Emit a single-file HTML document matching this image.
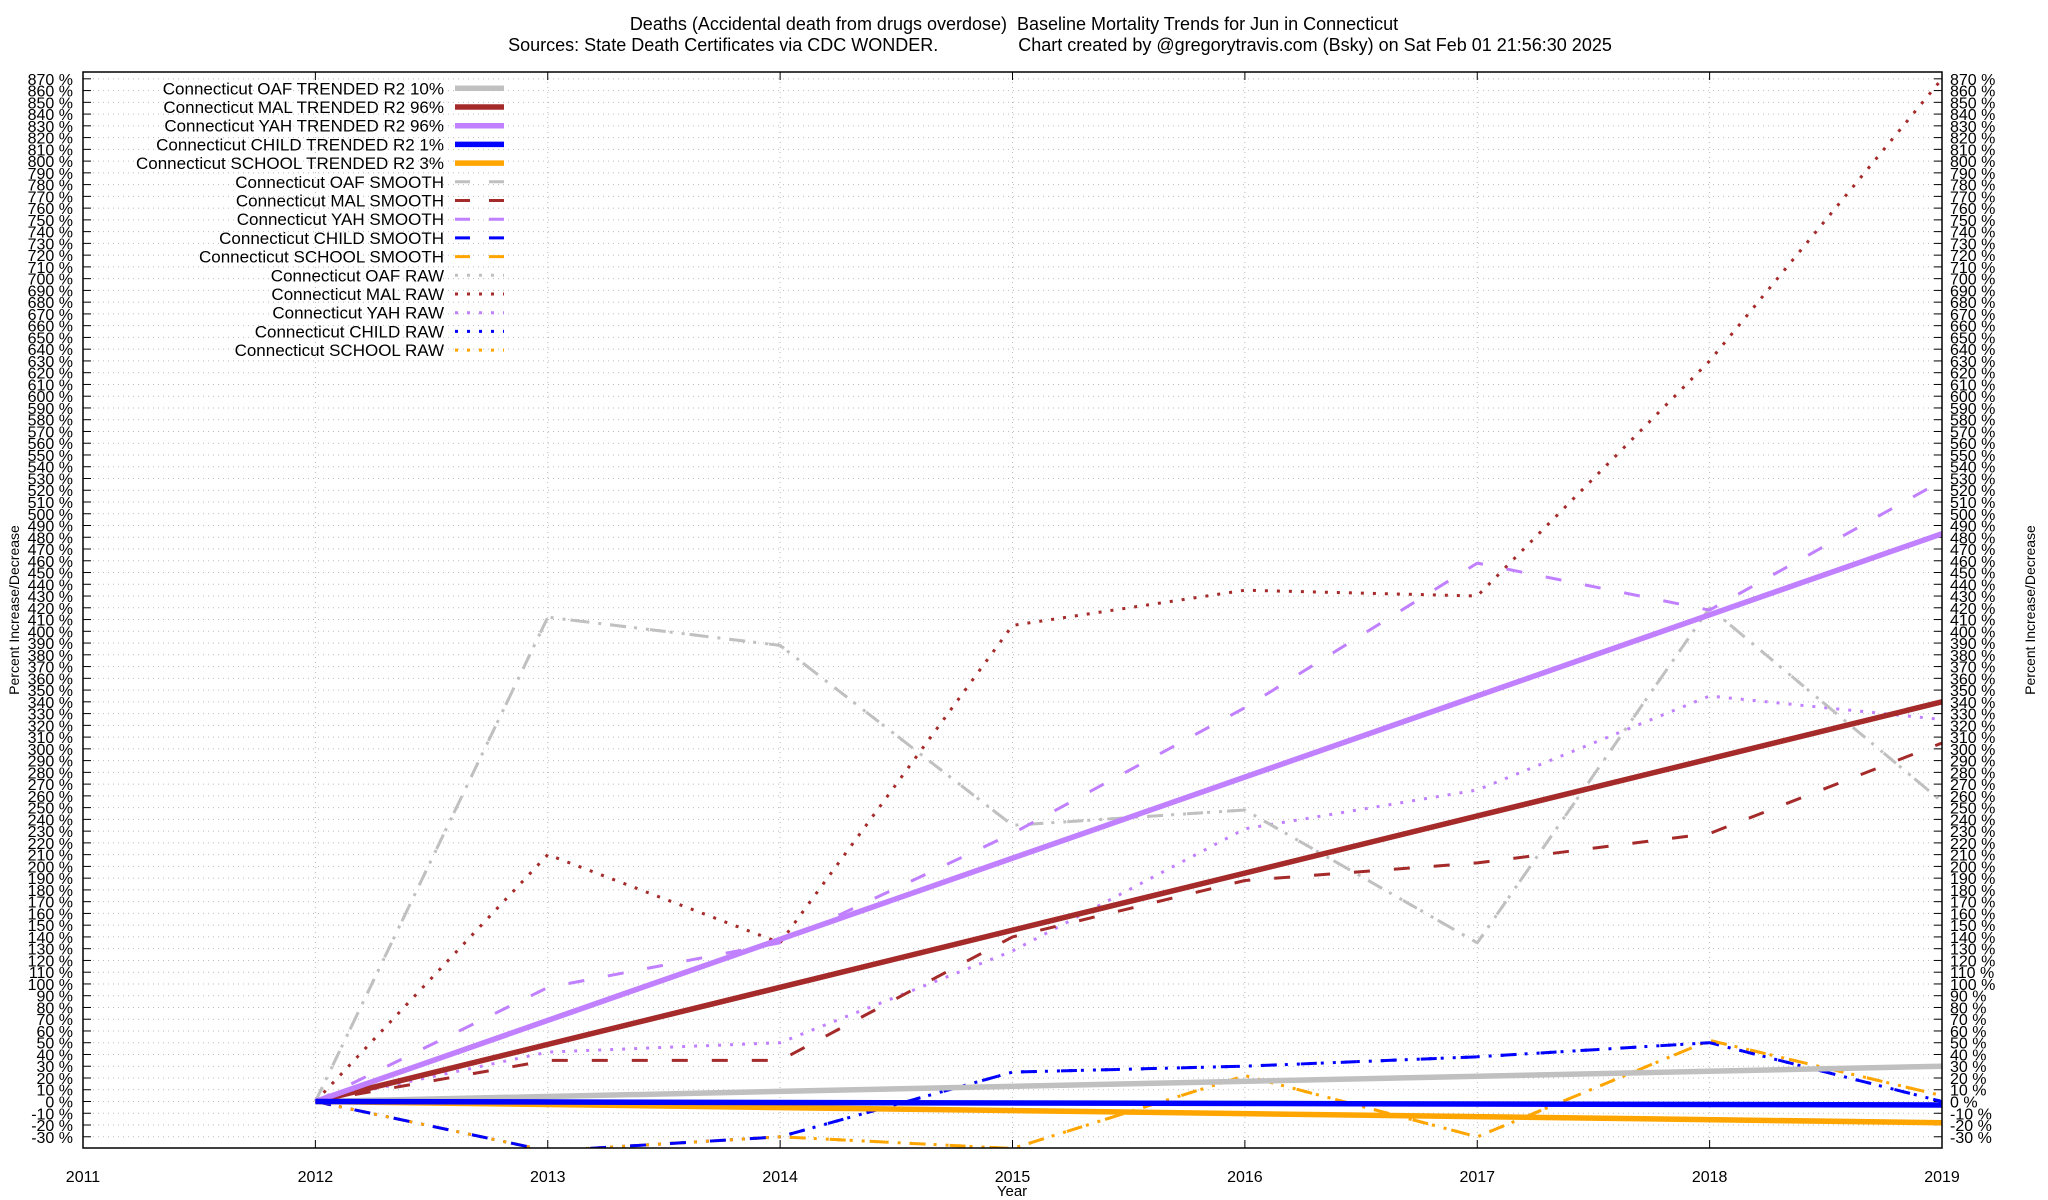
<!DOCTYPE html>
<html><head><meta charset="utf-8"><style>
html,body{margin:0;padding:0;background:#fff;}
svg{display:block;font-family:"Liberation Sans",sans-serif;}
</style></head><body>
<svg id="chart" width="2048" height="1200" viewBox="0 0 2048 1200">
<text x="1014" y="30" font-size="18" text-anchor="middle" xml:space="preserve">Deaths (Accidental death from drugs overdose)  Baseline Mortality Trends for Jun in Connecticut</text>
<text x="1060" y="51" font-size="18" text-anchor="middle" xml:space="preserve">Sources: State Death Certificates via CDC WONDER.                Chart created by @gregorytravis.com (Bsky) on Sat Feb 01 21:56:30 2025</text>
<g id="grid"></g>
<g id="yticks"></g>
<g id="xticks"></g>
<defs><clipPath id="plotclip"><rect x="83" y="72" width="1859" height="1076"/></clipPath></defs>
<g id="series" clip-path="url(#plotclip)"></g>
<rect x="83" y="72" width="1859" height="1076" fill="none" stroke="#000" stroke-width="1.5"/>
<g id="legend"></g>
<text transform="translate(19,610) rotate(-90)" font-size="14" text-anchor="middle">Percent Increase/Decrease</text>
<text transform="translate(2035,610) rotate(-90)" font-size="14" text-anchor="middle">Percent Increase/Decrease</text>
<text x="1012" y="1196" font-size="15" text-anchor="middle">Year</text>
</svg>
<script>
const years = [2012,2013,2014,2015,2016,2017,2018,2019];
const xTickLabels = [2011,2012,2013,2014,2015,2016,2017,2018,2019];
const oafTrend = [0,30];
const malTrend = [0,340];
const yahTrend = [0,483];
const childTrend = [0,-3];
const schoolTrend = [0,-18];
const oafSmooth = [0,412,388,235,248,135,420,255];
const malSmooth = [0,35,35,140,188,203,228,305];
const yahSmooth = [0,97,135,228,335,458,418,528];
const childSmooth = [0,-42,-30,25,30,38,50,0];
const schoolSmooth = [0,-42,-30,-40,22,-30,52,5];
const malRaw = [0,210,135,405,435,430,630,870];
const yahRaw = [0,42,50,128,232,265,345,325];
const oafRaw = oafSmooth;
const childRaw = childSmooth;
const schoolRaw = schoolSmooth;

const NS="http://www.w3.org/2000/svg";
const X0=83,X1=1942,YT=72,YB=1148;
const XMIN=2011,XMAX=2019,YMIN=-39.5,YMAX=875.3;
function sx(v){return X0+(v-XMIN)/(XMAX-XMIN)*(X1-X0);}
function sy(v){return 1101.5-v*1.1755;}
function mk(tag,attrs,parent){const e=document.createElementNS(NS,tag);for(const k in attrs)e.setAttribute(k,attrs[k]);parent.appendChild(e);return e;}
const grid=document.getElementById('grid'),yt=document.getElementById('yticks'),xt=document.getElementById('xticks');
for(let v=-30;v<=870;v+=10){
  const y=sy(v);
  const g=mk('line',{x1:X0,x2:X1,y1:y,y2:y,stroke:'#bbb','stroke-width':1,'stroke-dasharray':'1,4'},grid);
  
  
  const t1=mk('line',{x1:X0,x2:X0+8,y1:y,y2:y,stroke:'#000','stroke-width':1},yt);
  
  
  const t2=mk('line',{x1:X1-8,x2:X1,y1:y,y2:y,stroke:'#000','stroke-width':1},yt);
  
  
  const l=mk('text',{x:X0-10,y:y+6,'font-size':16,'text-anchor':'end'},yt);
  l.textContent=v+' %';
  
  
  const r=mk('text',{x:X1+8,y:y+6,'font-size':16},yt);
  r.textContent=v+' %';
  
  
}
xTickLabels.forEach(yr=>{
  const x=sx(yr);
  const g=mk('line',{x1:x,x2:x,y1:YT,y2:YB,stroke:'#bbb','stroke-width':1,'stroke-dasharray':'1,4'},grid);
  
  
  const t=mk('line',{x1:x,x2:x,y1:YB,y2:YB-8,stroke:'#000'},xt);
  
  
  const t2=mk('line',{x1:x,x2:x,y1:YT,y2:YT+8,stroke:'#000'},xt);
  
  
  const l=mk('text',{x:x,y:1182,'font-size':16,'text-anchor':'middle'},xt);
  l.textContent=yr;
  
  
});
const S=document.getElementById('series');
const GRAY='#c0c0c0',MAL='#a52a2a',YAH='#c080ff',CHILD='#0000ff',SCH='#ffa500';
const styles={trend:{w:5.5,d:null},smooth:{w:3,d:'16,24'},raw:{w:3,d:'3,9'}};
function poly(xs,vs,color,st,name){
  const pts=vs.map((v,i)=>sx(xs[i]).toFixed(1)+','+sy(v).toFixed(1)).join(' ');
  const a={points:pts,fill:'none',stroke:color,'stroke-width':styles[st].w,'stroke-linejoin':'round'};
  if(styles[st].d)a['stroke-dasharray']=styles[st].d;
  const p=mk('polyline',a,S);
  
  
}
const tx=[2012,2019];
poly(years,oafRaw,GRAY,'raw','oaf-raw-line');
poly(years,malRaw,MAL,'raw','mal-raw-line');
poly(years,yahRaw,YAH,'raw','yah-raw-line');
poly(years,childRaw,CHILD,'raw','child-raw-line');
poly(years,schoolRaw,SCH,'raw','school-raw-line');
poly(years,oafSmooth,GRAY,'smooth','oaf-smooth-line');
poly(years,malSmooth,MAL,'smooth','mal-smooth-line');
poly(years,yahSmooth,YAH,'smooth','yah-smooth-line');
poly(years,schoolSmooth,SCH,'smooth','school-smooth-line');
poly(years,childSmooth,CHILD,'smooth','child-smooth-line');
poly(tx,oafTrend,GRAY,'trend','oaf-trend-line');
poly(tx,malTrend,MAL,'trend','mal-trend-line');
poly(tx,yahTrend,YAH,'trend','yah-trend-line');
poly(tx,schoolTrend,SCH,'trend','school-trend-line');
poly(tx,childTrend,CHILD,'trend','child-trend-line');

const legendLabels=['Connecticut OAF TRENDED R2  10%','Connecticut MAL TRENDED R2  96%','Connecticut YAH TRENDED R2  96%','Connecticut CHILD TRENDED R2   1%','Connecticut SCHOOL TRENDED R2   3%','Connecticut OAF SMOOTH','Connecticut MAL SMOOTH','Connecticut YAH SMOOTH','Connecticut CHILD SMOOTH','Connecticut SCHOOL SMOOTH','Connecticut OAF RAW','Connecticut MAL RAW','Connecticut YAH RAW','Connecticut CHILD RAW','Connecticut SCHOOL RAW'];
const legendColors=[GRAY,MAL,YAH,CHILD,SCH,GRAY,MAL,YAH,CHILD,SCH,GRAY,MAL,YAH,CHILD,SCH];
const legendStyles=['trend','trend','trend','trend','trend','smooth','smooth','smooth','smooth','smooth','raw','raw','raw','raw','raw'];
const L=document.getElementById('legend');
legendLabels.forEach((lab,i)=>{
  const y=88.3+i*18.7;
  const t=mk('text',{x:444,y:y+6,'font-size':17,'text-anchor':'end','xml:space':'preserve'},L);
  t.textContent=lab;
  
  
  const st=legendStyles[i];
  const a={x1:455,x2:504,y1:y,y2:y,stroke:legendColors[i],'stroke-width':st==='trend'?5.5:3};
  if(st==='smooth')a['stroke-dasharray']='15,19';
  if(st==='raw')a['stroke-dasharray']='3,9';
  const s=mk('line',a,L);
  
  
});
</script>
</body></html>
